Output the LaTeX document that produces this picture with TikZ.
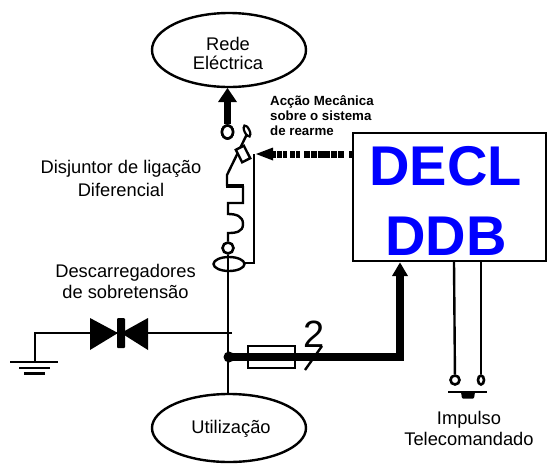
\documentclass[tikz,border=0pt]{standalone}
\usepackage{fontspec}
\setmainfont{Liberation Sans}
\usetikzlibrary{shapes.geometric}
\tikzset{
 wire/.style={line width=2.4pt,draw=black},
 heavy/.style={line width=7.5pt,draw=black},
 term/.style={circle,draw=black,line width=2.6pt,inner sep=0pt,fill=white},
 bubble/.style={ellipse,draw=black,line width=2.4pt,fill=white,inner sep=0pt},
 lbl/.style={align=center,font=\fontsize{18.3}{22}\selectfont,inner sep=0pt},
 big/.style={text=blue,font=\bfseries\fontsize{56}{56}\selectfont,inner sep=0pt}
}
\begin{document}
\begin{tikzpicture}[x=1pt,y=-1pt]
\useasboundingbox (0,0) rectangle (547,467);
% main vertical
\node[term,minimum size=11pt] (t3) at (228,248) {};
\coordinate (ub) at (228,396);
\draw[wire] (t3) -- (ub);
% ellipses
\node[bubble,minimum width=154pt,minimum height=74pt] (rede) at (229,50) {};
\node[bubble,minimum width=154pt,minimum height=68pt] (util) at (229,428) {};
\node[lbl,font=\fontsize{18.3}{19}\selectfont] (redetxt) at (228,53) {Rede\\Eléctrica};
\node[lbl] (utiltxt) at (231,429) {Utilização};
% DECL box
\node[draw=black,line width=2.4pt,fill=white,minimum width=193.5pt,minimum height=128pt,inner sep=0pt] (box) at (449.7,197) {};
\node[big] (decl) at (445.5,166.5) {DECL};
\node[big] (ddb) at (446,236) {DDB};
% top contacts
\node[term,ellipse,minimum width=11pt,minimum height=13pt] (t1) at (227.5,132) {};
\coordinate (stem) at (227.5,100);
\draw[line width=6.5pt] (t1) -- (stem);
\node[term] at (t1) [ellipse,minimum width=11pt,minimum height=13pt] {};
\fill (227.5,88) -- (237,102) -- (218,102) -- cycle;
\coordinate (c2) at (247,131);
\draw[line width=2.2pt,rotate around={25:(c2)}] (c2) ellipse (2.5pt and 6pt);
% switch
\coordinate (sw0) at (227,175);
\draw[wire] (247,134) -- (sw0) -- (227,186);
\draw[wire,fill=white,rotate around={27:(243,154)}] (238.5,147) rectangle (247.5,161);
% coil
\draw[line width=3.5pt] (226,186) -- (244,186);
\draw[wire] (243,186) -- (243,203) -- (228,203) -- (228,214) .. controls (236,214) and (243,216) .. (243,224) .. controls (243,232) and (236,233) .. (228,233) -- (t3);
% toroid and trip rod
\coordinate (tor) at (229,264);
\draw[wire] (tor) ellipse (15.5pt and 7pt);
\coordinate (rodtop) at (254,154);
\draw[wire] (244,263) -- (254,263) -- (rodtop);
% dashed arrow
\draw[line width=7pt,dash pattern=on 5pt off 1pt on 4pt off 3pt on 5pt off 1pt on 4pt off 4pt on 6pt off .8pt on 6pt off .8pt on 6pt off .8pt on 6pt off .8pt on 6pt off .8pt on 6pt off 5pt on 3pt off 100pt] (277,154) -- (box.west |- 0,154);
\draw[line width=7pt] (270,154) -- (276,154);
\fill (256,154) -- (273,147.5) -- (273,160.5) -- cycle;
% diode
\coordinate (gnd) at (35,333);
\draw[wire] (232,333) -- (gnd) -- (35,362);
\fill (90,318) -- (118,333) -- (90,350) -- cycle;
\fill (148,318) -- (121,333) -- (148,350) -- cycle;
\fill[rounded corners=1pt] (117,318) rectangle (125,348);
\draw[line width=2.4pt] (10,362) -- (58,362);
\draw[line width=2.4pt] (19,368) -- (50,368);
\draw[line width=2.4pt] (24,373.5) -- (45,373.5);
% main heavy
\fill (229,357) circle (5.5pt);
\node[draw=black,line width=2.2pt,minimum width=47pt,minimum height=22pt,inner sep=0pt] (fuse) at (271.5,357) {};
\draw[heavy] (229,357) -- (400,357) -- (400,272);
\fill (400,262.5) -- (408,276) -- (392,276) -- cycle;
\draw[wire] (305,370) -- (322,346);
\node[font=\fontsize{38}{38}\selectfont,inner sep=0pt] (two) at (314.5,334) {2};
% impulse wires
\node[term,ellipse,minimum width=9pt,minimum height=9pt] (p1) at (455,380) {};
\node[term,ellipse,minimum width=6pt,minimum height=9pt] (p2) at (481,380) {};
\draw[wire] (454,262) -- (p1);
\draw[wire] (481,262) -- (p2);
\draw[line width=2.4pt] (448,392) -- (487,392);
\fill[rounded corners=1pt] (461,392) -- (475,392) -- (474,398.5) -- (462,398.5) -- cycle;
% labels
\node[lbl,font=\fontsize{18.3}{23}\selectfont] (disj) at (121,178.5) {Disjuntor de ligação\\Diferencial};
\node[lbl,font=\fontsize{18.3}{21}\selectfont] (desc) at (125.5,281) {Descarregadores\\de sobretensão};
\node[lbl,font=\fontsize{18.3}{21}\selectfont] (imp) at (469,428) {Impulso\\Telecomandado};
\node[align=left,anchor=north west,inner sep=0pt,font=\bfseries\fontsize{13.3}{15}\selectfont] (acc) at (270,95) {Acção Mecânica\\sobre o sistema\\de rearme};
\end{tikzpicture}
\end{document}
